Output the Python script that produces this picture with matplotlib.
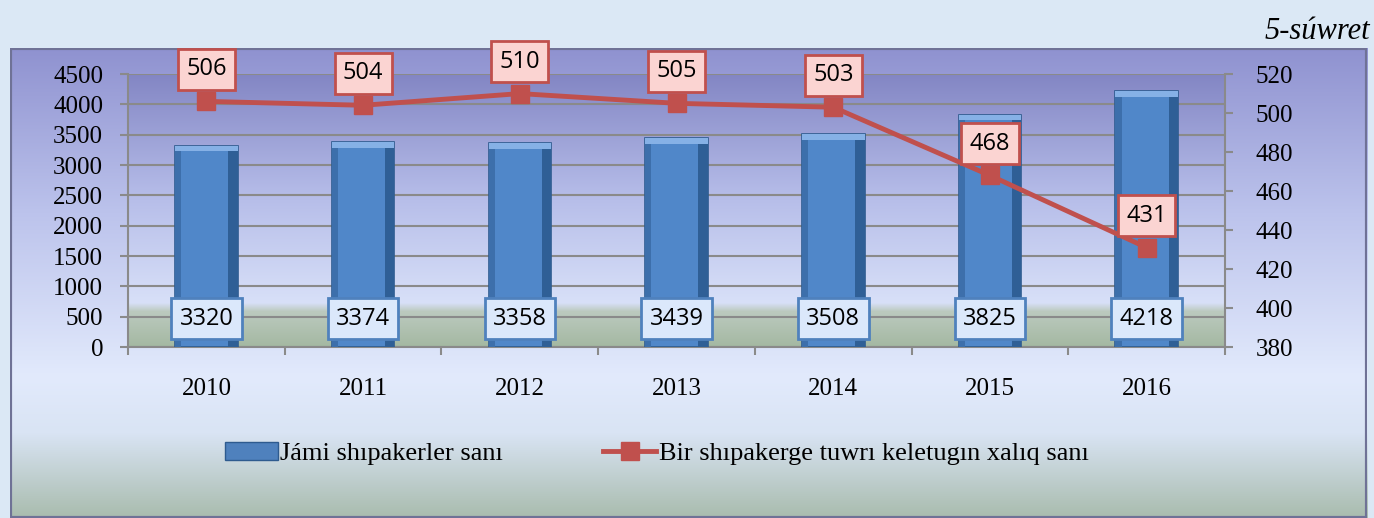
import numpy as np
import matplotlib
matplotlib.use("Agg")
import matplotlib.pyplot as plt
from matplotlib.colors import LinearSegmentedColormap
from matplotlib.lines import Line2D
from matplotlib.patches import Rectangle

years = ["2010", "2011", "2012", "2013", "2014", "2015", "2016"]
totals = [3320, 3374, 3358, 3439, 3508, 3825, 4218]
per_one = [506, 504, 510, 505, 503, 468, 431]

bar_name = "Jámi shıpakerler sanı"
line_name = "Bir shıpakerge tuwrı keletugın xalıq sanı"
fig_title = "5-súwret"

serif = ["Liberation Serif", "DejaVu Serif"]
sans = ["Open Sans", "DejaVu Sans"]
plt.rcParams["font.family"] = serif

fig = plt.figure(figsize=(13.74, 5.18), dpi=100)
fig.patch.set_facecolor("#dbe8f5")

# outer chart panel with gradient
panel = fig.add_axes([0.0073, 0.0, 0.9877, 0.907])
panel_cmap = LinearSegmentedColormap.from_list(
    "panel", [(0, "#8f92d0"), (0.35, "#bcc3ec"), (0.7, "#e2eafc"), (0.82, "#d9e4f4"), (1, "#a9bcae")])
grad = np.linspace(0, 1, 256).reshape(-1, 1)
panel.imshow(grad, cmap=panel_cmap, aspect="auto", extent=[0, 1, 0, 1], origin="upper")
panel.add_patch(Rectangle((0, 0), 1, 1, transform=panel.transAxes, fill=False,
                          edgecolor="#6f7296", linewidth=3))
panel.set_axis_off()

# plot area
ax = fig.add_axes([0.0932, 0.330, 0.7984, 0.527])
area_cmap = LinearSegmentedColormap.from_list(
    "area", [(0, "#8386c4"), (0.45, "#b6bde9"), (0.84, "#d8e0f8"), (0.87, "#bccabf"), (1, "#a4b8a2")])
ax.imshow(grad, cmap=area_cmap, aspect="auto", extent=[-0.5, 6.5, 0, 4500],
          origin="upper", zorder=0)

x = np.arange(len(years))
ax.bar(x, totals, width=0.4, color="#5087c9", edgecolor="#2e5b8f", linewidth=1.2, zorder=3)
# darker sides and light top cap to mimic bevel
ax.bar(x + 0.17, totals, width=0.06, color="#2f5f96", linewidth=0, zorder=3)
ax.bar(x - 0.18, totals, width=0.04, color="#3d6fab", linewidth=0, zorder=3)
ax.bar(x, [90] * len(x), bottom=np.array(totals) - 90, width=0.4,
       color="#86b1e6", linewidth=0, zorder=3)

ax.set_xlim(-0.5, 6.5)
ax.set_ylim(0, 4500)
ax.set_yticks(range(0, 4501, 500))
ax.yaxis.grid(True, color="#8a8a8a", linewidth=1.5, zorder=1)
ax.set_axisbelow(True)
ax.set_xticks(np.arange(-0.5, 6.6, 1), minor=False)
ax.set_xticklabels([])
ax.set_xticks(x, minor=True)
ax.set_xticklabels(years, minor=True, fontsize=18)
ax.tick_params(axis="x", which="minor", length=0, pad=22)
ax.tick_params(axis="x", which="major", length=6, color="#8a8a8a", width=1.5)
ax.tick_params(axis="y", length=6, color="#8a8a8a", width=1.5, labelsize=18, pad=12)
for s in ["top", "right"]:
    ax.spines[s].set_visible(False)
ax.spines["left"].set_color("#8a8a8a")
ax.spines["left"].set_linewidth(1.5)
ax.spines["bottom"].set_color("#8a8a8a")
ax.spines["bottom"].set_linewidth(1.5)

for xi, v in zip(x, totals):
    ax.text(xi, 470, str(v), ha="center", va="center", fontsize=17, family=sans, zorder=5,
            bbox=dict(boxstyle="square,pad=0.35", facecolor="#dbe8fb", edgecolor="#4f81bd", linewidth=2))

ax2 = ax.twinx()
ax2.set_ylim(380, 520)
ax2.set_yticks(range(380, 521, 20))
ax2.plot(x, per_one, color="#c0504d", linewidth=3.5, marker="s", markersize=13, zorder=4)
ax2.tick_params(axis="y", length=6, color="#8a8a8a", width=1.5, labelsize=18, pad=16)
for s in ["top", "left", "bottom"]:
    ax2.spines[s].set_visible(False)
ax2.spines["right"].set_color("#8a8a8a")
ax2.spines["right"].set_linewidth(1.5)

for xi, v in zip(x, per_one):
    ax2.annotate(str(v), (xi, v), xytext=(0, 23), textcoords="offset points",
                 ha="center", va="center", fontsize=17, family=sans, zorder=6,
                 bbox=dict(boxstyle="square,pad=0.35", facecolor="#fbd4d2", edgecolor="#c0504d", linewidth=2))

handles = [Rectangle((0, 0), 1, 1, facecolor="#4f81bd", edgecolor="#2e5b8f"),
           Line2D([0], [0], color="#c0504d", linewidth=3.5, marker="s", markersize=13)]
fig.legend(handles, [bar_name, line_name], loc="center", bbox_to_anchor=(0.478, 0.125),
           ncol=2, frameon=False, prop={"size": 19},
           handlelength=2.0, handletextpad=0.1, columnspacing=3.8)

fig.text(0.997, 0.94, fig_title, ha="right", va="center", fontsize=22, style="italic")

fig.savefig("out.png", dpi=100)
